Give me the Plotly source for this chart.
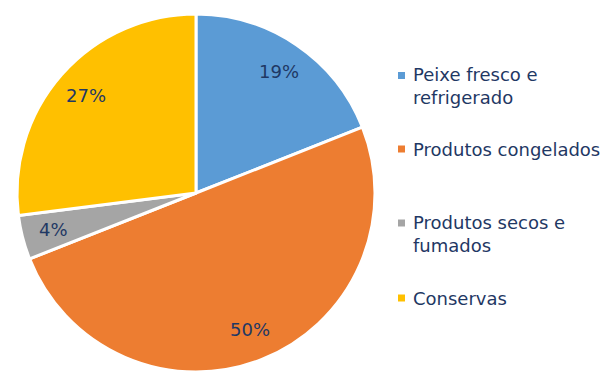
import math
import plotly.graph_objects as go

labels = ["Peixe fresco e refrigerado", "Produtos congelados", "Produtos secos e fumados", "Conservas"]
legend_text = ["Peixe fresco e<br>refrigerado", "Produtos congelados", "Produtos secos e<br>fumados", "Conservas"]
values = [19, 50, 4, 27]
colors = ["#5B9BD5", "#ED7D31", "#A5A5A5", "#FFC000"]
legend_y_px = [86, 149, 234, 298]

W, H = 606, 372
TXT = "#1F3864"
FONT = "DejaVu Sans"

# pie geometry (pixels)
cx, cy, r = 196, 193, 179

fig = go.Figure(go.Pie(
    labels=labels, values=values, sort=False, direction="clockwise", rotation=0,
    marker=dict(colors=colors, line=dict(color="white", width=3)),
    textinfo="none", showlegend=False, hoverinfo="label+percent",
    domain=dict(x=[(cx - r) / W, (cx + r) / W], y=[0, (H - (cy - r)) / H]),
))

total = sum(values)
cum = 0
annotations = []
for v in values:
    mid = (cum + v / 2) / total * 2 * math.pi
    cum += v
    d = 0.82 * r
    px = cx + d * math.sin(mid)
    py = cy - d * math.cos(mid)
    annotations.append(dict(
        x=px / W, y=1 - py / H, xref="paper", yref="paper",
        text=f"{round(v / total * 100)}%", showarrow=False,
        font=dict(family=FONT, size=18, color=TXT),
        xanchor="center", yanchor="middle",
    ))

shapes = []
for t, c, ly in zip(legend_text, colors, legend_y_px):
    annotations.append(dict(
        x=411 / W, y=1 - ly / H, xref="paper", yref="paper",
        text=t, showarrow=False, align="left",
        font=dict(family=FONT, size=18, color=TXT),
        xanchor="left", yanchor="middle",
    ))
first_line = [75.5, 149, 223, 298]
for c, fy in zip(colors, first_line):
    shapes.append(dict(
        type="rect", xref="paper", yref="paper",
        x0=398 / W, x1=405 / W, y0=1 - (fy + 3.5) / H, y1=1 - (fy - 3.5) / H,
        fillcolor=c, line=dict(width=0),
    ))

fig.update_layout(
    width=W, height=H, margin=dict(l=0, r=0, t=0, b=0),
    paper_bgcolor="white", plot_bgcolor="white",
    annotations=annotations, shapes=shapes,
    font=dict(family=FONT, color=TXT),
)

fig.write_html("out.html")
